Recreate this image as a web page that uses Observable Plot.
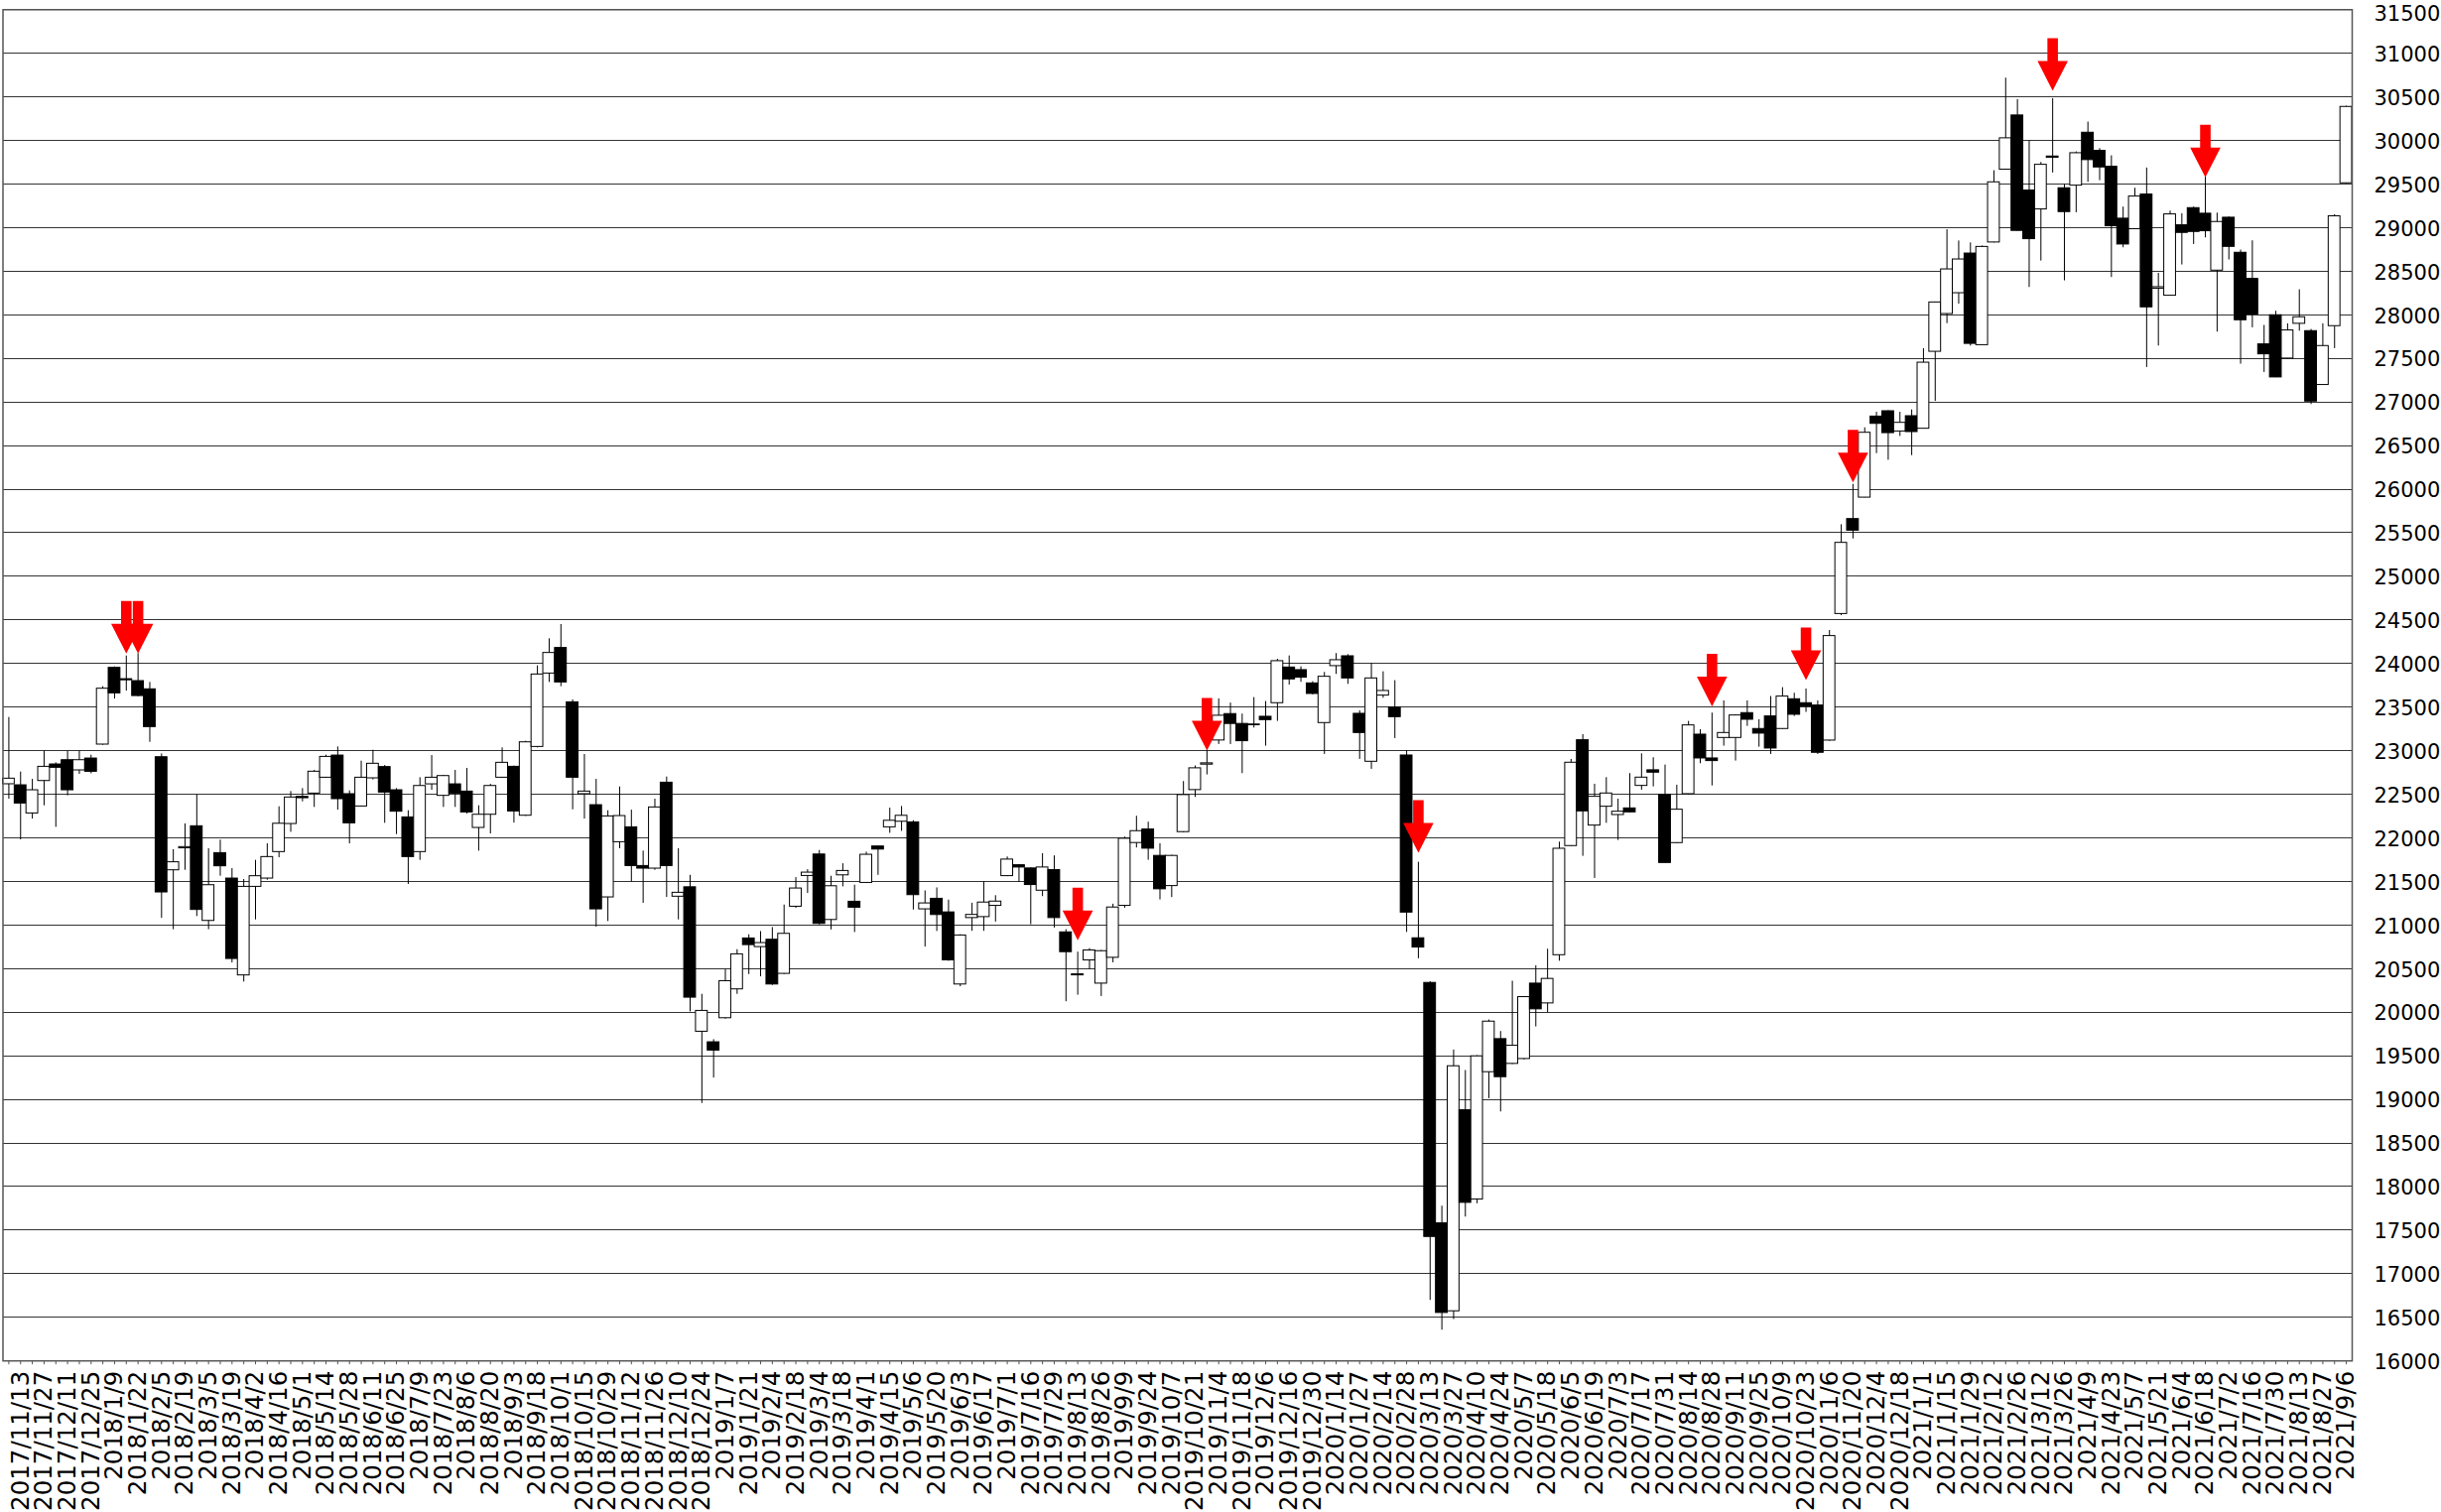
<!DOCTYPE html>
<html><head><meta charset="utf-8">
<script src="https://cdn.jsdelivr.net/npm/d3@7"></script>
<script src="https://cdn.jsdelivr.net/npm/@observablehq/plot@0.6"></script>
<style>html,body{margin:0;padding:0;background:#fff;overflow:hidden}</style>
</head><body><div id="chart"></div>
<script>
// Weekly candles (index 0 = first week shown)
const opens = [
22615,22603,22280,22652,22842,22891,22774,22910,23070,23950,
23820,23798,23704,22925,21628,21880,22133,21047,21825,21533,
20422,21438,21533,21837,22159,22470,22508,22690,22944,22501,
22360,22683,22812,22546,22235,21837,22614,22482,22614,22531,
22114,22265,22690,22815,22254,23043,23885,24178,23555,22501,
22375,21317,21950,22121,21677,21647,22633,21325,21433,19776,
19655,19931,20262,20846,20747,20831,20440,21210,21563,21809,
21058,21570,21267,21483,21901,22121,22185,22178,21180,21301,
21145,20318,21080,21091,21220,21561,21686,21649,21394,21630,
20916,20434,20594,20328,20624,21220,21941,22096,21793,21447,
22066,22548,22840,23117,23420,23307,23300,23389,23545,23954,
23924,23772,23317,23970,24083,23423,22873,23632,23495,22945,
20848,20336,17578,16569,18875,17851,19312,19691,19407,19463,
20328,20101,20654,21906,23120,22141,22357,22262,22338,22596,
22775,22494,21940,22501,23184,22911,23146,23146,23431,23249,
23393,23249,23590,23545,23518,23116,24568,25657,25903,26833,
26894,26662,26837,26693,27576,28009,28248,28703,27652,28830,
29665,30287,29426,29209,29816,29452,29482,30089,29881,29699,
29103,28982,29380,28300,28219,29027,29224,29160,28507,29114,
28712,28412,27661,27995,27498,27897,27813,27195,27870,29509];
const highs = [
23381,22755,22671,22994,22861,22994,22994,22948,23734,23961,
24086,24113,23783,22963,21864,22160,22493,21875,21974,21647,
21522,21742,21932,22356,22531,22565,22774,22948,23043,22539,
22880,23005,22830,22565,22311,22690,22944,22717,22774,22797,
22368,22614,23032,22823,23108,23973,24284,24447,23582,22956,
22671,22311,22584,22318,21848,22444,22698,21875,21570,20205,
19685,20489,20717,20888,20925,20971,21229,21544,21635,21855,
21559,21703,21457,21836,21904,22341,22360,22197,21392,21426,
21286,20888,21250,21497,21337,21781,21694,21656,21819,21793,
20947,20689,20730,20708,21239,22009,22248,22180,21933,21800,
22646,22825,23003,23595,23546,23420,23609,23564,24049,24087,
23962,23791,23898,24114,24102,23457,24000,23905,23803,23000,
21720,20350,17775,19566,19331,19501,19911,19778,20355,20180,
20533,20723,21951,22900,23184,22615,22691,22444,22737,22964,
22919,22835,22604,23336,23241,23431,23571,23412,23571,23355,
23621,23723,23659,23708,23571,24379,25592,26055,26704,26882,
26900,26882,26909,27611,28145,28976,28847,28825,28790,29653,
30715,30469,29995,29748,30480,29494,29869,30211,29907,29824,
29236,29452,29684,28477,29190,29160,29236,29589,29167,29122,
28743,28849,27878,28041,27897,28287,27832,27897,29149,30393];
const lows = [
22444,21977,22216,22368,22121,22482,22728,22735,23062,23593,
23684,23620,23096,21078,20946,21628,21097,20946,21560,20566,
20346,21059,21514,21772,22064,22413,22349,22683,22318,21931,
22355,22664,22167,22038,21465,21742,22546,22349,22349,22273,
21848,22045,22683,22170,22246,23032,23783,23734,22322,22216,
20975,21040,21875,21495,21249,21628,21317,21059,20004,18953,
19245,19920,20205,20432,20406,20307,20432,21191,21362,21001,
20944,21438,20914,21476,21570,22052,22075,21172,20747,20926,
20584,20292,20928,20928,21034,21555,21489,21004,21326,20966,
20120,20195,20491,20180,20567,21193,21884,21743,21288,21315,
22058,22464,22722,23071,23071,22737,23260,23052,23336,23753,
23784,23640,22957,23875,23761,22900,22786,23602,23139,20915,
20613,16694,16352,16474,17650,17802,19008,18856,19400,19452,
19831,19995,20585,21900,21788,21534,22167,21970,22285,22547,
22585,21710,21932,22495,22850,22596,23052,22881,23279,23040,
22957,23245,23393,23439,22957,23108,24549,25429,25900,26408,
26332,26605,26385,26690,27007,27899,28123,27641,27650,28825,
29660,28960,28314,28617,29627,28390,29171,29520,29539,28428,
28769,28980,27396,27642,28215,28572,28807,28883,27802,28629,
27434,27851,27339,27280,27495,27813,26971,27190,27612,29505];
const closes = [
22679,22394,22546,22815,22804,22546,22891,22758,23711,23658,
23808,23627,23271,21374,21720,21894,21173,21457,21674,20611,
21438,21560,21780,22162,22463,22455,22759,22929,22444,22167,
22690,22850,22520,22300,21780,22595,22690,22709,22508,22292,
22265,22595,22861,22303,23096,23874,24121,23783,22690,22531,
21180,22246,22250,21677,21647,22349,21677,21370,20167,20015,
19560,20356,20664,20770,20793,20318,20899,21419,21601,21013,
21445,21620,21199,21806,21866,22196,22253,21343,21248,21115,
20595,20880,21116,21258,21269,21751,21660,21459,21660,21080,
20689,20423,20708,20700,21201,21990,22077,21876,21410,21793,
22491,22798,22855,23401,23307,23109,23293,23351,24027,23818,
23837,23651,23848,24038,23829,23203,23829,23685,23385,21143,
20742,17422,16550,19380,17813,19494,19892,19255,19615,20173,
20033,20382,21875,22862,22304,22471,22509,22300,22293,22691,
22748,21712,22323,23290,22911,22881,23203,23404,23355,23196,
23025,23621,23412,23507,22976,24315,25384,25524,26647,26749,
26643,26761,26655,27451,28142,28521,28635,27667,28779,29520,
30025,28963,28868,29721,29801,29179,29854,29775,29691,29016,
28807,29357,28086,28317,29152,28940,28951,28959,29065,28780,
27938,28003,27547,27282,27821,27972,27005,27642,29130,30385];

// Tick labels shown under every second week (weeks 1, 3, 5, ...)
const tickLabels = [
"2017/11/13","2017/11/27","2017/12/11","2017/12/25","2018/1/9","2018/1/22","2018/2/5","2018/2/19","2018/3/5","2018/3/19",
"2018/4/2","2018/4/16","2018/5/1","2018/5/14","2018/5/28","2018/6/11","2018/6/25","2018/7/9","2018/7/23","2018/8/6",
"2018/8/20","2018/9/3","2018/9/18","2018/10/1","2018/10/15","2018/10/29","2018/11/12","2018/11/26","2018/12/10","2018/12/24",
"2019/1/7","2019/1/21","2019/2/4","2019/2/18","2019/3/4","2019/3/18","2019/4/1","2019/4/15","2019/5/6","2019/5/20",
"2019/6/3","2019/6/17","2019/7/1","2019/7/16","2019/7/29","2019/8/13","2019/8/26","2019/9/9","2019/9/24","2019/10/7",
"2019/10/21","2019/11/4","2019/11/18","2019/12/6","2019/12/16","2019/12/30","2020/1/14","2020/1/27","2020/2/14","2020/2/28",
"2020/3/13","2020/3/27","2020/4/10","2020/4/24","2020/5/7","2020/5/18","2020/6/5","2020/6/19","2020/7/3","2020/7/17",
"2020/7/31","2020/8/14","2020/8/28","2020/9/11","2020/9/25","2020/10/9","2020/10/23","2020/11/6","2020/11/20","2020/12/4",
"2020/12/18","2021/1/1","2021/1/15","2021/1/29","2021/2/12","2021/2/26","2021/3/12","2021/3/26","2021/4/9","2021/4/23",
"2021/5/7","2021/5/21","2021/6/4","2021/6/18","2021/7/2","2021/7/16","2021/7/30","2021/8/13","2021/8/27","2021/9/6"];

// Red arrow markers: week index and tip value
const arrowWeeks = [10, 11, 91, 102, 120, 145, 153, 157, 174, 187];
const arrowTips  = [24113, 24113, 20825, 23003, 21830, 23507, 23810, 26078, 30571, 29577];

const yTicks = d3.range(16000, 31501, 500);
const yTop = yTicks[yTicks.length - 1];

const candles = opens.map((o, i) => ({i, o, h: highs[i], l: lows[i], c: closes[i]}));
const labelRows = tickLabels.map((t, k) => ({i: 2 * k + 1, t}));
const arrows = arrowWeeks.map((i, k) => ({i, tip: arrowTips[k]}));

const arrowSymbol = {
  draw(context) {
    const hw = 15.3, hh = 30, sw = 5.3, sl = 23;
    context.moveTo(0, 0);
    context.lineTo(-hw, -hh);
    context.lineTo(-sw, -hh);
    context.lineTo(-sw, -hh - sl);
    context.lineTo(sw, -hh - sl);
    context.lineTo(sw, -hh);
    context.lineTo(hw, -hh);
    context.closePath();
  }
};

const chart = Plot.plot({
  width: 2460,
  height: 1524,
  marginLeft: 2.5,
  marginRight: 90,
  marginTop: 9.3,
  marginBottom: 152.8,
  style: {fontFamily: "DejaVu Sans", background: "#fff", color: "#000"},
  x: {type: "band", domain: d3.range(opens.length), padding: 0, axis: null},
  y: {domain: [16000, 31500], axis: null},
  color: {type: "identity"},
  marks: [
    Plot.ruleY(yTicks, {stroke: "#333", strokeWidth: 1, shapeRendering: "crispEdges"}),
    Plot.ruleX(d3.range(opens.length), {x: d => d, y1: 16000, y2: 15955, stroke: "#555", strokeWidth: 1}),
    Plot.ruleX(candles, {x: "i", y1: "l", y2: "h", stroke: "#000", strokeWidth: 1}),
    Plot.barY(candles, {x: "i", y1: "o", y2: "c", fill: d => (d.c >= d.o ? "#ffffff" : "#000000"), stroke: "#000", strokeWidth: 1, inset: 0}),
    Plot.dot(arrows, {x: "i", y: "tip", symbol: arrowSymbol, fill: "#ff0000", stroke: "none", r: 5}),
    Plot.frame({stroke: "#555", strokeWidth: 1.5}),
    Plot.text(yTicks.filter(v => v !== yTop), {y: d => d, text: d => String(d), frameAnchor: "right", dx: 22, dy: 1.5, textAnchor: "start", fontSize: 21, fill: "#000"}),
    Plot.text([yTop], {y: d => d, text: d => String(d), frameAnchor: "right", dx: 22, dy: 4.5, textAnchor: "start", fontSize: 21, fill: "#000"}),
    Plot.text(labelRows, {x: "i", text: "t", frameAnchor: "bottom", dy: 10, rotate: -90, textAnchor: "end", lineAnchor: "middle", fontSize: 24.5, fill: "#000"})
  ]
});
document.getElementById("chart").append(chart);
</script>
</body></html>
